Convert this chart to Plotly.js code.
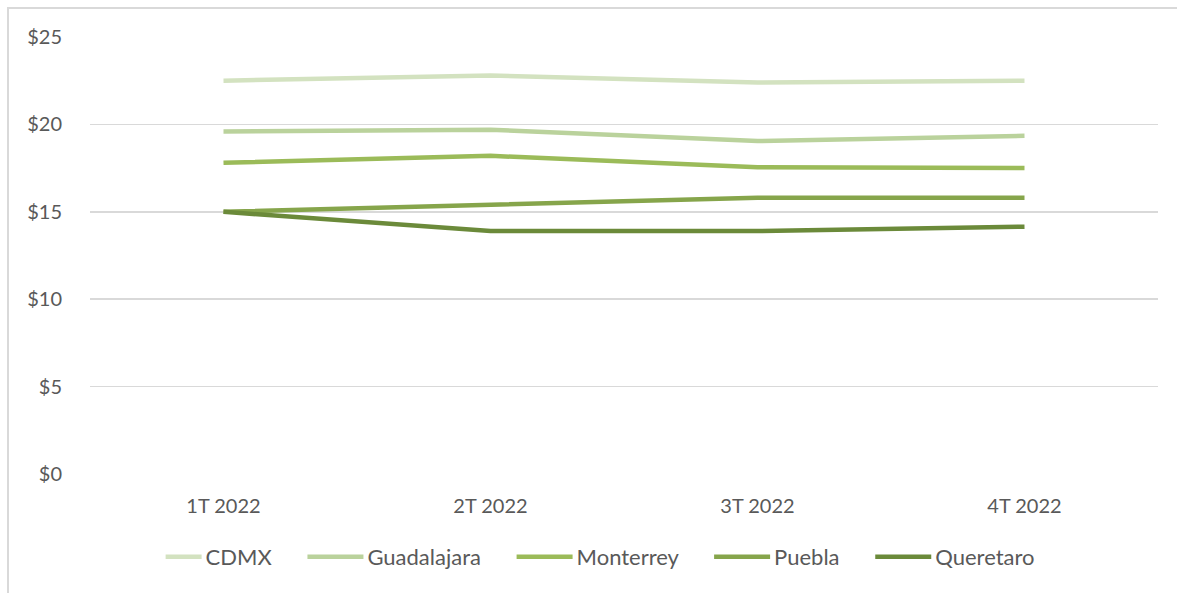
<!DOCTYPE html>
<html>
<head>
<meta charset="utf-8">
<script src="https://cdn.plot.ly/plotly-3.0.1.min.js"></script>
<style>
  html, body { margin: 0; padding: 0; background: #fff; overflow: hidden; }
  #wrap { position: relative; width: 1177px; height: 593px; overflow: hidden; }
  #chart { position: absolute; left: 0; top: 0; width: 1177px; height: 593px; }
  #frameTop { position: absolute; left: 7px; top: 7px; width: 1170px; height: 2px; background: #d9d9d9; pointer-events: none; }
  #frameLeft { position: absolute; left: 7px; top: 7px; width: 2px; height: 586px; background: #d9d9d9; pointer-events: none; }
</style>
</head>
<body>
<div id="wrap">
  <div id="chart"></div>
  <div id="frameTop"></div>
  <div id="frameLeft"></div>
</div>
<script>
const categories = ['1T 2022', '2T 2022', '3T 2022', '4T 2022'];
const seriesNames = ['CDMX', 'Guadalajara', 'Monterrey', 'Puebla', 'Queretaro'];
const cdmx        = [22.5, 22.8, 22.4, 22.5];
const guadalajara = [19.6, 19.7, 19.05, 19.35];
const monterrey   = [17.8, 18.2, 17.55, 17.5];
const puebla      = [15.0, 15.4, 15.8, 15.8];
const queretaro   = [15.0, 13.9, 13.9, 14.15];
const seriesColors = ['#D3E2C0', '#BAD29C', '#9BBB59', '#86A54B', '#6B8A3A'];

const values = [cdmx, guadalajara, monterrey, puebla, queretaro];
const pad = '&nbsp;'.repeat(9);
const traces = seriesNames.map((name, i) => ({
  type: 'scatter',
  mode: 'lines',
  name: name + (i < seriesNames.length - 1 ? pad : ''),
  x: categories,
  y: values[i],
  line: { color: seriesColors[i], width: 4.5 }
}));

const fam = 'Lato, "Open Sans", sans-serif';
const tickFont = { family: fam, size: 20, color: '#595959' };
const legendFont = { family: fam, size: 22, color: '#595959' };

const layout = {
  width: 1177,
  height: 593,
  margin: { l: 90, r: 19, t: 37, b: 119 },
  paper_bgcolor: '#ffffff',
  plot_bgcolor: '#ffffff',
  font: tickFont,
  showlegend: true,
  xaxis: {
    type: 'category',
    range: [-0.5, 3.5],
    showgrid: false,
    zeroline: false,
    showline: false,
    ticks: 'outside',
    ticklen: 14,
    tickcolor: 'rgba(0,0,0,0)',
    tickfont: tickFont,
    fixedrange: true,
    automargin: false
  },
  yaxis: {
    range: [0, 25],
    dtick: 5,
    tick0: 0,
    tickprefix: '$',
    showgrid: true,
    gridcolor: '#d9d9d9',
    gridwidth: 1.5,
    zeroline: false,
    showline: false,
    ticks: 'outside',
    ticklen: 23,
    tickcolor: 'rgba(0,0,0,0)',
    tickfont: tickFont,
    fixedrange: true,
    automargin: false
  },
  legend: {
    orientation: 'h',
    xref: 'container',
    yref: 'container',
    x: 0.512,
    xanchor: 'center',
    y: 0.0607,
    yanchor: 'middle',
    font: legendFont,
    itemwidth: 30,
    tracegroupgap: 0
  }
};

Plotly.newPlot('chart', traces, layout, { displayModeBar: false, staticPlot: true }).then(gd => {
  gd.querySelectorAll('.legend .legendlines path').forEach(p => {
    p.setAttribute('d', 'M-20,0h56');
  });
});
</script>
</body>
</html>
